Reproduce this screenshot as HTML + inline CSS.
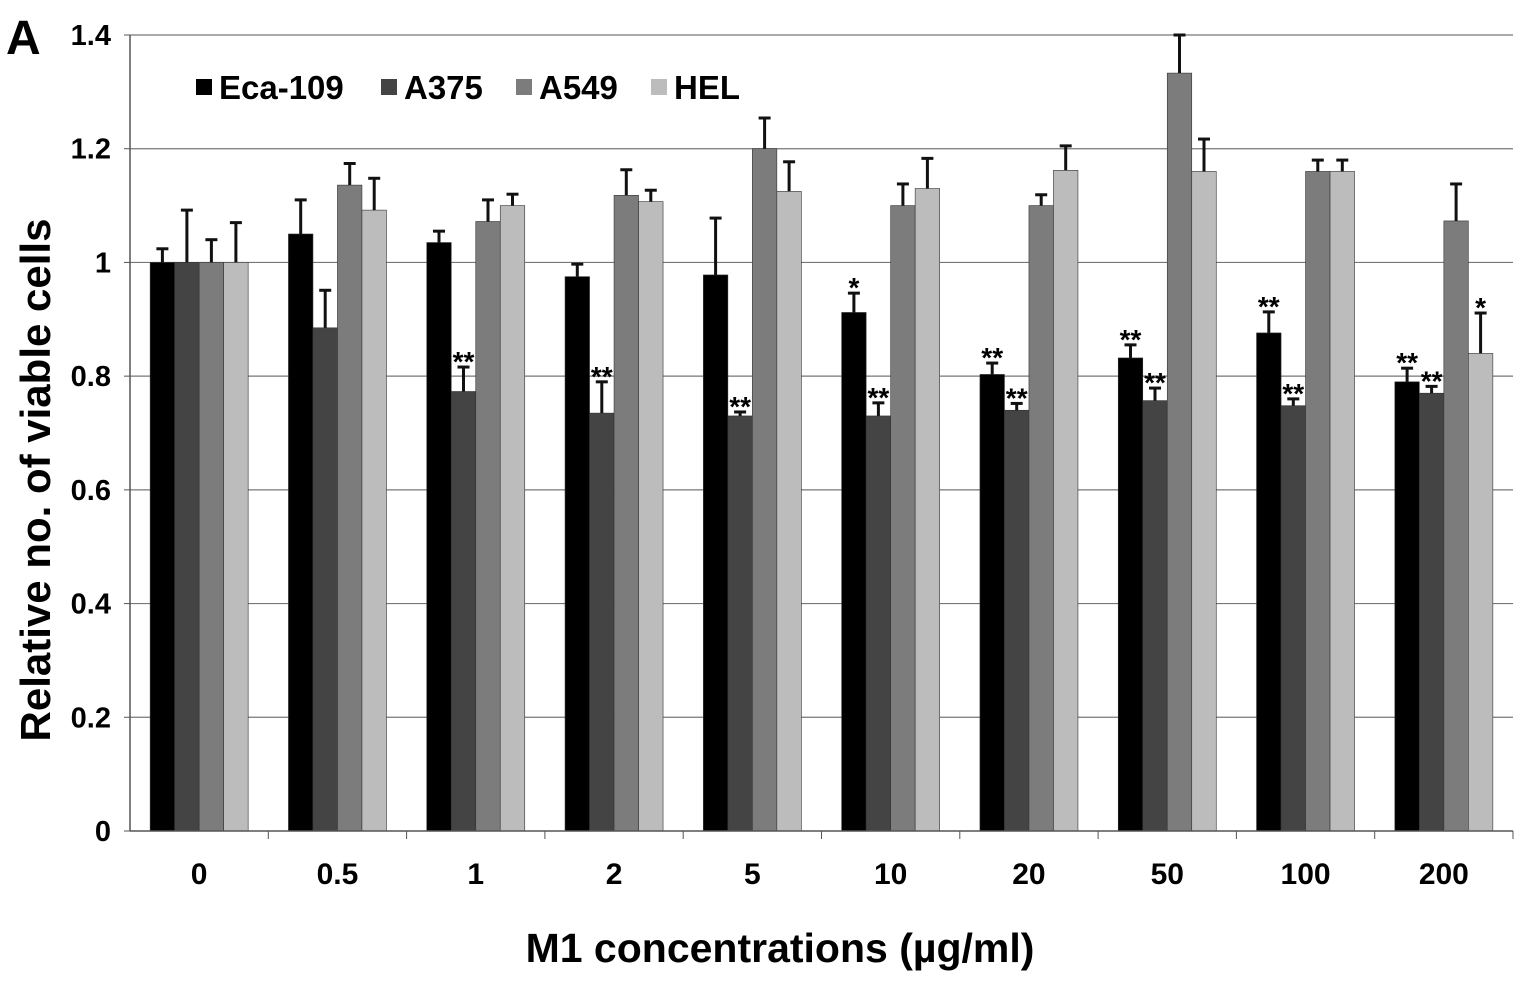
<!DOCTYPE html>
<html><head><meta charset="utf-8"><style>
body{margin:0;background:#fff;}
svg text{font-family:"Liberation Sans",Arial,sans-serif;font-weight:bold;}
</style></head><body>
<svg id="chart" width="1530" height="982" viewBox="0 0 1530 982">
<text x="6" y="54" font-size="48">A</text>
<g id="grid"></g><g id="bars"></g><g id="axes"></g>
<text transform="translate(50,480) rotate(-90)" text-anchor="middle" font-size="42">Relative no. of viable cells</text>
<text x="780" y="962" text-anchor="middle" font-size="41">M1 concentrations (µg/ml)</text>
<g id="legend"></g>
</svg>
<script>
const categories=["0","0.5","1","2","5","10","20","50","100","200"];
const seriesNames=["Eca-109","A375","A549","HEL"];
const ecaValues=[1.0,1.05,1.035,0.975,0.978,0.912,0.803,0.832,0.876,0.79];
const a375Values=[1.0,0.885,0.773,0.735,0.73,0.73,0.74,0.757,0.748,0.77];
const a549Values=[1.0,1.136,1.072,1.118,1.2,1.1,1.1,1.333,1.16,1.073];
const helValues=[1.0,1.092,1.1,1.107,1.125,1.13,1.162,1.16,1.16,0.84];
const ecaErr=[0.024,0.06,0.02,0.022,0.1,0.034,0.02,0.023,0.037,0.024];
const a375Err=[0.092,0.066,0.043,0.055,0.007,0.023,0.012,0.022,0.012,0.012];
const a549Err=[0.04,0.038,0.038,0.045,0.054,0.038,0.019,0.067,0.02,0.065];
const helErr=[0.07,0.056,0.02,0.02,0.052,0.053,0.043,0.057,0.02,0.071];
const ecaStars=["","","","","","*","**","**","**","**"];
const a375Stars=["","","**","**","**","**","**","**","**","**"];
const a549Stars=["","","","","","","","","",""];
const helStars=["","","","","","","","","","*"];
const yTicks=[0,0.2,0.4,0.6,0.8,1,1.2,1.4];
const yTickLabels=["0","0.2","0.4","0.6","0.8","1","1.2","1.4"];
const NS="http://www.w3.org/2000/svg";
const X0=130,X1=1513,Y0=831,Y1=35,YMAX=1.4;
const y=v=>Y0-(v/YMAX)*(Y0-Y1);
const cw=(X1-X0)/categories.length;
const bw=24.5;
const colors=["#000","#444","#7c7c7c","#bcbcbc"];
const vals=[ecaValues,a375Values,a549Values,helValues];
const errs=[ecaErr,a375Err,a549Err,helErr];
const stars=[ecaStars,a375Stars,a549Stars,helStars];
function mk(tag,attrs,parent){const e=document.createElementNS(NS,tag);for(const k in attrs)e.setAttribute(k,attrs[k]);parent.appendChild(e);return e;}
const grid=document.getElementById('grid'),bars=document.getElementById('bars'),axes=document.getElementById('axes'),legend=document.getElementById('legend');
yTicks.forEach((t,i)=>{
 if(t>0){const l=mk('line',{x1:X0,x2:X1,y1:y(t),y2:y(t),stroke:'#777','stroke-width':1.2},grid);
 
 }
 const tk=mk('line',{x1:X0-6,x2:X0,y1:y(t),y2:y(t),stroke:'#555'},axes);
 
 
 const tx=mk('text',{x:111,y:y(t)+10,'text-anchor':'end','font-size':29},axes);
 tx.textContent=yTickLabels[i];
 
 
});
const ya=mk('line',{x1:X0,x2:X0,y1:Y1,y2:Y0,stroke:'#555','stroke-width':1.5},axes);


const xa=mk('line',{x1:X0,x2:X1,y1:Y0,y2:Y0,stroke:'#555','stroke-width':1.5},axes);


categories.forEach((c,i)=>{
 const cx=X0+cw*(i+0.5);
 const tk=mk('line',{x1:X0+cw*(i+1),x2:X0+cw*(i+1),y1:Y0,y2:Y0+8,stroke:'#555'},axes);
 
 
 const tx=mk('text',{x:cx,y:884,'text-anchor':'middle','font-size':30},axes);
 tx.textContent=c;
 
 
 for(let s=0;s<4;s++){
  const bx=cx-2*bw+s*bw, v=vals[s][i], top=y(v), et=y(v+errs[s][i]);
  const r=mk('rect',{x:bx,y:top,width:bw,height:Y0-top,fill:colors[s],stroke:'#333','stroke-width':0.6},bars);
  
  
  const m=bx+bw/2;
  const e1=mk('line',{x1:m,x2:m,y1:top,y2:et,stroke:'#111','stroke-width':3},bars);
  
  
  const e2=mk('line',{x1:m-6,x2:m+6,y1:et,y2:et,stroke:'#111','stroke-width':3},bars);
  
  
  if(stars[s][i]){const st=mk('text',{x:m,y:et+4,'text-anchor':'middle','font-size':28},bars);
   st.textContent=stars[s][i];
   
   }
 }
});
const lx=[196,381,516,651];
seriesNames.forEach((n,s)=>{
 const r=mk('rect',{x:lx[s],y:79,width:16,height:16,fill:colors[s]},legend);
 
 
 const t=mk('text',{x:lx[s]+23,y:99,'font-size':33},legend);
 t.textContent=n;
 
 
});
</script>
</body></html>
